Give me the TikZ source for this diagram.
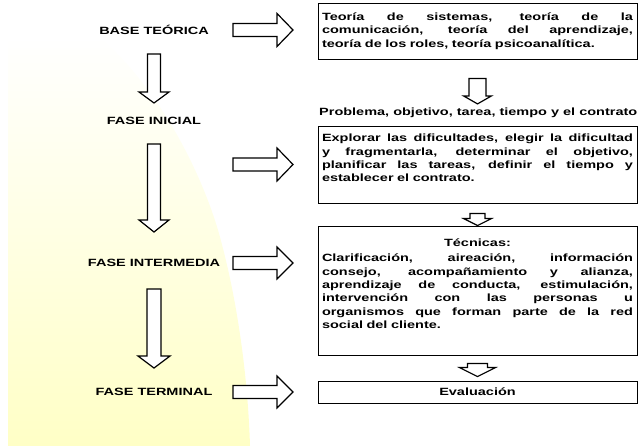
\documentclass[tikz,border=0pt]{standalone}
\usepackage{fontspec}
\setmainfont{Liberation Sans}[FakeStretch=1.38]
\usepackage{tikz}
\usetikzlibrary{calc, positioning}
\definecolor{luz}{HTML}{FFFFC6}
\newcommand\jline[1]{\makebox[311pt][s]{\spaceskip=\fontdimen2\font plus 1fil\relax #1}}

\begin{document}
\begin{tikzpicture}[
        x=1pt, y=-1pt,
        fase/.style={font=\bfseries\fontsize{10.5}{13.3}\selectfont, inner sep=1pt},
        caja/.style={draw, line width=0.9pt, text width=311pt, inner xsep=4pt, inner ysep=2pt,
            align=left, font=\bfseries\fontsize{10.5}{13.3}\selectfont},
        flecha/.style n args={3}{draw, fill=white, line width=1.2pt, line join=miter,
            to path={let \p1=(\tikztostart), \p2=(\tikztotarget), \p3=($(\p2)!#3!(\p1)$) in
                ($(\p1)!#1!90:(\p2)$) -- ($(\p3)!#1!90:(\p2)$) -- ($(\p3)!#2!90:(\p2)$) -- (\p2)
                -- ($(\p3)!#2!-90:(\p2)$) -- ($(\p3)!#1!-90:(\p2)$) -- ($(\p1)!#1!-90:(\p2)$) -- cycle}}
    ]
    \useasboundingbox (0,0) rectangle (639,446);
    % fondo
    \shade[top color=white, bottom color=luz] (8,37) -- (100,37)
        .. controls (160,90) and (200,170) .. (218,230)
        .. controls (238,300) and (248,380) .. (250,446) -- (8,446) -- cycle;

    % fases
    \node[fase] (base) at (154,30) {BASE TEÓRICA};
    \node[fase] (inicial) at (154,121) {FASE INICIAL};
    \node[fase] (intermedia) at (154,263) {FASE INTERMEDIA};
    \node[fase] (terminal) at (154,392) {FASE TERMINAL};

    % cajas
    \node[caja, minimum height=56pt] (teorias) at (477.5,31) {\noindent
        \jline{Teoría de sistemas, teoría de la}\\
        \jline{comunicación, teoría del aprendizaje,}\\
        teoría de los roles, teoría psicoanalítica.};
    \node[fase, anchor=west] (problema) at (318,113) {Problema, objetivo, tarea, tiempo y el contrato};
    \node[caja, minimum height=77pt] (explorar) at (477.5,164.5) {\noindent
        \jline{Explorar las dificultades, elegir la dificultad}\\
        \jline{y fragmentarla, determinar el objetivo,}\\
        \jline{planificar las tareas, definir el tiempo y}\\
        establecer el contrato.\\ \mbox{}};
    \node[caja, minimum height=129pt] (tecnicas) at (477.5,290.5) {\noindent
        \makebox[311pt]{Técnicas:}\\[1.7pt]
        \jline{Clarificación, aireación, información}\\
        \jline{consejo, acompañamiento y alianza,}\\
        \jline{aprendizaje de conducta, estimulación,}\\
        \jline{intervención con las personas u}\\
        \jline{organismos que forman parte de la red}\\
        social del cliente.\\ \mbox{}};
    \node[caja, minimum height=22pt, align=center] (evaluacion) at (477.5,392) {Evaluación};

    \coordinate (ha) at (233,0);
    \coordinate (hb) at (293,0);

    % flechas hacia la derecha
    \draw[flecha={6.5pt}{16.5pt}{16pt}] (base -| ha) to (base -| hb);
    \draw[flecha={6.5pt}{16.5pt}{16pt}] (explorar -| ha) to (explorar -| hb);
    \draw[flecha={6.5pt}{16pt}{16pt}] (intermedia -| ha) to (intermedia -| hb);
    \draw[flecha={6.5pt}{16pt}{16pt}] (terminal -| ha) to (terminal -| hb);

    % flechas hacia abajo
    \draw[flecha={6.5pt}{15pt}{11pt}] ([yshift=-24pt]base.center) to ([yshift=18pt]inicial.center);
    \draw[flecha={6.5pt}{15pt}{12pt}] ([yshift=-23pt]inicial.center) to ([yshift=31pt]intermedia.center);
    \draw[flecha={7pt}{16pt}{12pt}] ([yshift=-26pt]intermedia.center) to ([yshift=24pt]terminal.center);

    \draw[flecha={8.5pt}{14pt}{8pt}] ([yshift=-19pt]teorias.south) to ([yshift=3pt]teorias.south |- problema.north);
    \draw[flecha={7.5pt}{14pt}{7pt}] ([yshift=-10pt]explorar.south) to (tecnicas.north);
    \draw[flecha={10pt}{18pt}{9pt}] ([yshift=-8pt]tecnicas.south) to ([yshift=4pt]evaluacion.north);
\end{tikzpicture}
\end{document}
